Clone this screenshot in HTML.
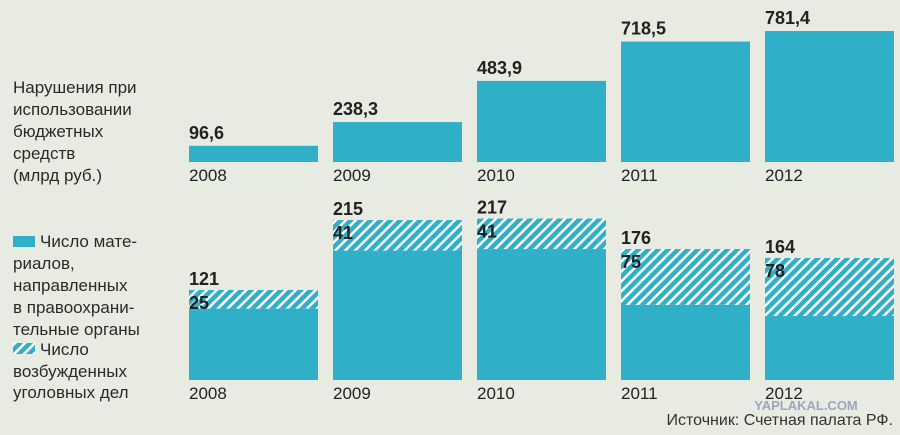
<!DOCTYPE html>
<html><head><meta charset="utf-8">
<style>
body{margin:0;background:#e7ebe2;}
svg{display:block;font-family:"Liberation Sans","DejaVu Sans",sans-serif;}
.lt{font-size:17px;fill:#2a2a2a;}
.val{font-size:18px;font-weight:bold;fill:#222;}
.yr{font-size:17px;fill:#222;}
</style></head><body>
<svg width="900" height="435" viewBox="0 0 900 435">
<defs>
<pattern id="hatch" width="7" height="7" patternUnits="userSpaceOnUse" patternTransform="rotate(45)">
<rect width="7" height="7" fill="#30b0c8"/>
<rect width="2.5" height="7" fill="#ffffff"/>
</pattern>
</defs>
<rect width="900" height="435" fill="#e7ebe2"/>
<g>
<text class="lt" x="13" y="93">Нарушения при</text>
<text class="lt" x="13" y="115">использовании</text>
<text class="lt" x="13" y="137">бюджетных</text>
<text class="lt" x="13" y="159">средств</text>
<text class="lt" x="13" y="181">(млрд руб.)</text>
</g>
<g>
<rect x="13" y="236" width="22" height="11" fill="#30b0c8"/>
<text class="lt" x="40" y="247">Число мате-</text>
<text class="lt" x="13" y="269">риалов,</text>
<text class="lt" x="13" y="291">направленных</text>
<text class="lt" x="13" y="313">в правоохрани-</text>
<text class="lt" x="13" y="335">тельные органы</text>
<rect x="13" y="343" width="22" height="11" fill="url(#hatch)"/>
<text class="lt" x="40" y="355">Число</text>
<text class="lt" x="13" y="377">возбужденных</text>
<text class="lt" x="13" y="398">уголовных дел</text>
</g>
<g id="top"></g>
<g id="bot"></g>
<text x="893" y="425" text-anchor="end" style="font-size:16px;fill:#333">Источник: Счетная палата РФ.</text>
<text x="806" y="410" text-anchor="middle" style="font-size:13px;font-weight:bold;fill:#9aa7bd">YAPLAKAL.COM</text>
</svg>
<script>
const years=["2008","2009","2010","2011","2012"];
const budget=[96.6,238.3,483.9,718.5,781.4];
const budgetLabels=["96,6","238,3","483,9","718,5","781,4"];
const cases=[121,215,217,176,164];
const criminal=[25,41,41,75,78];
const NS="http://www.w3.org/2000/svg";
const x0=189,step=144,bw=129;
const yTop=v=>162-v*0.1676;
const yBot=v=>380-v*0.744;
function mk(tag,attrs,parent,txt){const e=document.createElementNS(NS,tag);for(const k in attrs)e.setAttribute(k,attrs[k]);if(txt!==undefined)e.textContent=txt;parent.appendChild(e);return e;}
const gt=document.getElementById('top'),gb=document.getElementById('bot');
years.forEach((y,i)=>{
 const x=x0+i*step;
 let r=mk('rect',{x:x,y:yTop(budget[i]),width:bw,height:162-yTop(budget[i]),fill:'#30b0c8'},gt);
 
 
 let t=mk('text',{x:x,y:yTop(budget[i])-7,class:'val'},gt,budgetLabels[i]);
 
 
 let yl=mk('text',{x:x,y:181,class:'yr'},gt,y);
 
 
 const topY=yBot(cases[i]),hy=topY+criminal[i]*0.744;
 let s=mk('rect',{x:x,y:hy,width:bw,height:380-hy,fill:'#30b0c8'},gb);
 
 
 let h=mk('rect',{x:x,y:topY,width:bw,height:hy-topY,fill:'url(#hatch)'},gb);
 
 
 let tv=mk('text',{x:x,y:topY-5,class:'val'},gb,String(cases[i]));
 
 
 let cv=mk('text',{x:x,y:topY+19,class:'val'},gb,String(criminal[i]));
 
 
 let by=mk('text',{x:x,y:399,class:'yr'},gb,y);
 
 
});
</script>
</body></html>
